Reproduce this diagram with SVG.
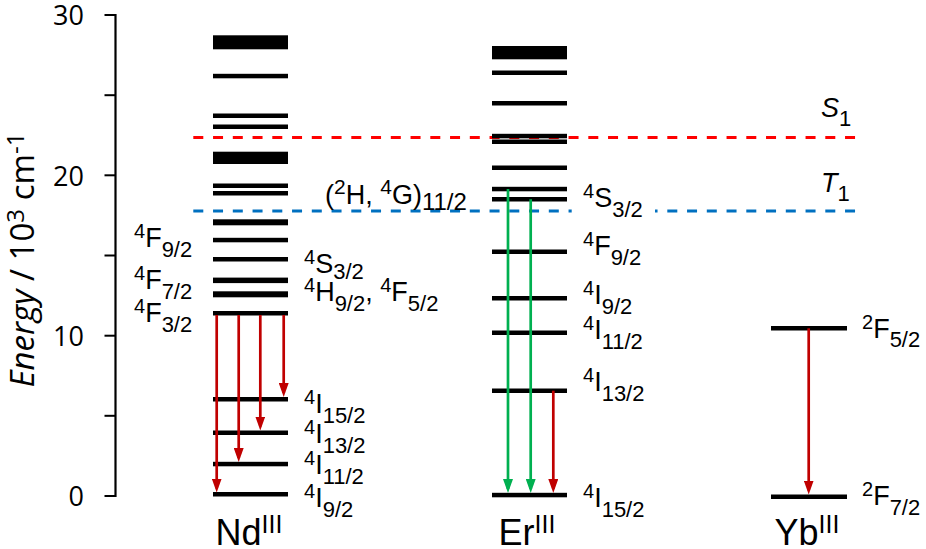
<svg xmlns="http://www.w3.org/2000/svg" width="926" height="549" viewBox="0 0 926 549">
<style>
.ax{font-family:"Open Sans","Liberation Sans",sans-serif;fill:#000}
.tk{font-size:27px;text-anchor:end}
.t{font-family:"Liberation Sans",Arial,sans-serif;font-size:27px;fill:#000}
.sp{font-size:20px}
.sb{font-size:22px}
.ion{font-family:"Liberation Sans",Arial,sans-serif;font-size:36px;fill:#000;text-anchor:middle}
.isp{font-size:25px}
.lv{fill:#000}
.dash{fill:none;stroke-width:3;stroke-dasharray:10 9.75}
.red{stroke:#c00000;stroke-width:2.7;fill:none}
.grn{stroke:#00b050;stroke-width:2.7;fill:none}
</style>
<defs>
<marker id="ahR" viewBox="0 0 14 10" refX="10" refY="5" markerWidth="14" markerHeight="10" markerUnits="userSpaceOnUse" orient="auto"><path d="M0,0 L14,5 L0,10 z" fill="#c00000"/></marker>
<marker id="ahG" viewBox="0 0 14 10" refX="10" refY="5" markerWidth="14" markerHeight="10" markerUnits="userSpaceOnUse" orient="auto"><path d="M0,0 L14,5 L0,10 z" fill="#00b050"/></marker>
</defs>
<rect width="926" height="549" fill="#fff"/>

<g id="axis">
<line x1="115.5" y1="14" x2="115.5" y2="497" stroke="#000" stroke-width="2.2"/>
<g stroke="#000" stroke-width="2">
<line x1="104.5" y1="15" x2="115.5" y2="15"/>
<line x1="104.5" y1="95.2" x2="115.5" y2="95.2"/>
<line x1="104.5" y1="175.3" x2="115.5" y2="175.3"/>
<line x1="104.5" y1="255.5" x2="115.5" y2="255.5"/>
<line x1="104.5" y1="335.7" x2="115.5" y2="335.7"/>
<line x1="104.5" y1="415.8" x2="115.5" y2="415.8"/>
<line x1="104.5" y1="496" x2="115.5" y2="496"/>
</g>
<text class="ax tk" x="84" y="25">30</text>
<text class="ax tk" x="84" y="185.5">20</text>
<text class="ax tk" x="84" y="346">10</text>
<text class="ax tk" x="84" y="506">0</text>
<text class="ax" font-size="33" text-anchor="middle" transform="translate(34,260) rotate(-90)"><tspan font-style="italic">Energy</tspan> / 10<tspan font-size="24" dy="-10">3</tspan><tspan dy="10"> cm</tspan><tspan font-size="24" dy="-10">-1</tspan></text>
</g>

<g id="guides">
<line class="dash" x1="193.3" y1="137.5" x2="857" y2="137.5" stroke="#ff0000"/>
<line class="dash" x1="193.3" y1="211" x2="857" y2="211" stroke="#0070c0"/>
<rect x="571.7" y="201" width="83.3" height="20" fill="#fff"/>
<text class="t" x="821" y="117" font-size="33"><tspan font-style="italic">S</tspan><tspan class="sb" dy="9">1</tspan></text>
<text class="t" x="821" y="192" font-size="33"><tspan font-style="italic">T</tspan><tspan class="sb" dy="9">1</tspan></text>
</g>

<g id="nd">
<rect class="lv" x="213" y="35.3" width="75" height="14"/>
<rect class="lv" x="213" y="73.8" width="75" height="4.5"/>
<rect class="lv" x="213" y="113.5" width="75" height="4.5"/>
<rect class="lv" x="213" y="124.5" width="75" height="4.5"/>
<rect class="lv" x="213" y="151.7" width="75" height="12.3"/>
<rect class="lv" x="213" y="183.5" width="75" height="4.5"/>
<rect class="lv" x="213" y="191" width="75" height="4.5"/>
<rect class="lv" x="213" y="219.3" width="75" height="6"/>
<rect class="lv" x="213" y="237.8" width="75" height="4.5"/>
<rect class="lv" x="213" y="257" width="75" height="4.5"/>
<rect class="lv" x="213" y="277.6" width="75" height="5.5"/>
<rect class="lv" x="213" y="291.3" width="75" height="6"/>
<rect class="lv" x="213" y="311" width="75" height="4.5"/>
<rect class="lv" x="213" y="397" width="75" height="4.5"/>
<rect class="lv" x="213" y="430.5" width="75" height="4.5"/>
<rect class="lv" x="213" y="461.8" width="75" height="4.5"/>
<rect class="lv" x="213" y="492" width="75" height="4.5"/>
<text class="t" x="134" y="247"><tspan class="sp" dy="-9">4</tspan><tspan dy="9">F</tspan><tspan class="sb" dy="10">9/2</tspan></text>
<text class="t" x="134" y="288.5"><tspan class="sp" dy="-9">4</tspan><tspan dy="9">F</tspan><tspan class="sb" dy="10">7/2</tspan></text>
<text class="t" x="134" y="321.5"><tspan class="sp" dy="-9">4</tspan><tspan dy="9">F</tspan><tspan class="sb" dy="10">3/2</tspan></text>
<text class="t" x="304" y="273"><tspan class="sp" dy="-9">4</tspan><tspan dy="9">S</tspan><tspan class="sb" dy="6">3/2</tspan></text>
<text class="t" x="304" y="301"><tspan class="sp" dy="-9">4</tspan><tspan dy="9">H</tspan><tspan class="sb" dy="10">9/2</tspan><tspan dy="-10">, </tspan><tspan class="sp" dy="-9">4</tspan><tspan dy="9">F</tspan><tspan class="sb" dy="10">5/2</tspan></text>
<text class="t" x="325" y="204" font-size="29">(<tspan font-size="21" dy="-10">2</tspan><tspan dy="10">H, </tspan><tspan font-size="21" dy="-10">4</tspan><tspan dy="10">G)</tspan><tspan font-size="24" dy="6">11/2</tspan></text>
<text class="t" x="304" y="413"><tspan class="sp" dy="-9">4</tspan><tspan dy="9">I</tspan><tspan class="sb" dy="10">15/2</tspan></text>
<text class="t" x="304" y="443"><tspan class="sp" dy="-9">4</tspan><tspan dy="9">I</tspan><tspan class="sb" dy="10">13/2</tspan></text>
<text class="t" x="304" y="474"><tspan class="sp" dy="-9">4</tspan><tspan dy="9">I</tspan><tspan class="sb" dy="10">11/2</tspan></text>
<text class="t" x="304" y="507"><tspan class="sp" dy="-9">4</tspan><tspan dy="9">I</tspan><tspan class="sb" dy="10">9/2</tspan></text>
<text class="ion" x="249" y="545">Nd<tspan class="isp" dy="-12">III</tspan></text>
</g>

<g id="er">
<rect class="lv" x="492" y="46" width="75" height="13.3"/>
<rect class="lv" x="492" y="70.5" width="75" height="4.5"/>
<rect class="lv" x="492" y="101" width="75" height="4.5"/>
<rect class="lv" x="492" y="133.8" width="75" height="4.5"/>
<rect class="lv" x="492" y="139.5" width="75" height="4.5"/>
<rect class="lv" x="492" y="165.5" width="75" height="4.5"/>
<rect class="lv" x="492" y="186.8" width="75" height="4.5"/>
<rect class="lv" x="492" y="197" width="75" height="4.5"/>
<rect class="lv" x="492" y="249.5" width="75" height="4.5"/>
<rect class="lv" x="492" y="296" width="75" height="4.5"/>
<rect class="lv" x="492" y="330.5" width="75" height="4.5"/>
<rect class="lv" x="492" y="388.5" width="75" height="4.5"/>
<rect class="lv" x="492" y="492.8" width="75" height="4.5"/>
<text class="t" x="583" y="207"><tspan class="sp" dy="-9">4</tspan><tspan dy="9">S</tspan><tspan class="sb" dy="10">3/2</tspan></text>
<text class="t" x="583" y="255"><tspan class="sp" dy="-9">4</tspan><tspan dy="9">F</tspan><tspan class="sb" dy="10">9/2</tspan></text>
<text class="t" x="583" y="304"><tspan class="sp" dy="-9">4</tspan><tspan dy="9">I</tspan><tspan class="sb" dy="10">9/2</tspan></text>
<text class="t" x="583" y="339"><tspan class="sp" dy="-9">4</tspan><tspan dy="9">I</tspan><tspan class="sb" dy="10">11/2</tspan></text>
<text class="t" x="583" y="391"><tspan class="sp" dy="-9">4</tspan><tspan dy="9">I</tspan><tspan class="sb" dy="10">13/2</tspan></text>
<text class="t" x="583" y="507"><tspan class="sp" dy="-9">4</tspan><tspan dy="9">I</tspan><tspan class="sb" dy="10">15/2</tspan></text>
<text class="ion" x="527" y="545">Er<tspan class="isp" dy="-12">III</tspan></text>
</g>

<g id="yb">
<rect class="lv" x="771" y="326" width="76" height="4.5"/>
<rect class="lv" x="771" y="494.5" width="76" height="4.5"/>
<text class="t" x="862" y="338.3"><tspan class="sp" dy="-9">2</tspan><tspan dy="9">F</tspan><tspan class="sb" dy="9">5/2</tspan></text>
<text class="t" x="862" y="505"><tspan class="sp" dy="-9">2</tspan><tspan dy="9">F</tspan><tspan class="sb" dy="10">7/2</tspan></text>
<text class="ion" x="807" y="545">Yb<tspan class="isp" dy="-12">III</tspan></text>
</g>

<g id="connectors">
<line class="red" x1="216.7" y1="315" x2="216.7" y2="488.5" marker-end="url(#ahR)"/>
<line class="red" x1="238.7" y1="315" x2="238.7" y2="458" marker-end="url(#ahR)"/>
<line class="red" x1="260.3" y1="315" x2="260.3" y2="426.5" marker-end="url(#ahR)"/>
<line class="red" x1="283.7" y1="315" x2="283.7" y2="393" marker-end="url(#ahR)"/>
<line class="grn" x1="508" y1="189" x2="508" y2="489" marker-end="url(#ahG)"/>
<line class="grn" x1="530.7" y1="199.3" x2="530.7" y2="489" marker-end="url(#ahG)"/>
<line class="red" x1="553.3" y1="390.7" x2="553.3" y2="489" marker-end="url(#ahR)"/>
<line class="red" x1="808.7" y1="328.3" x2="808.7" y2="490.5" marker-end="url(#ahR)"/>
</g>
</svg>
